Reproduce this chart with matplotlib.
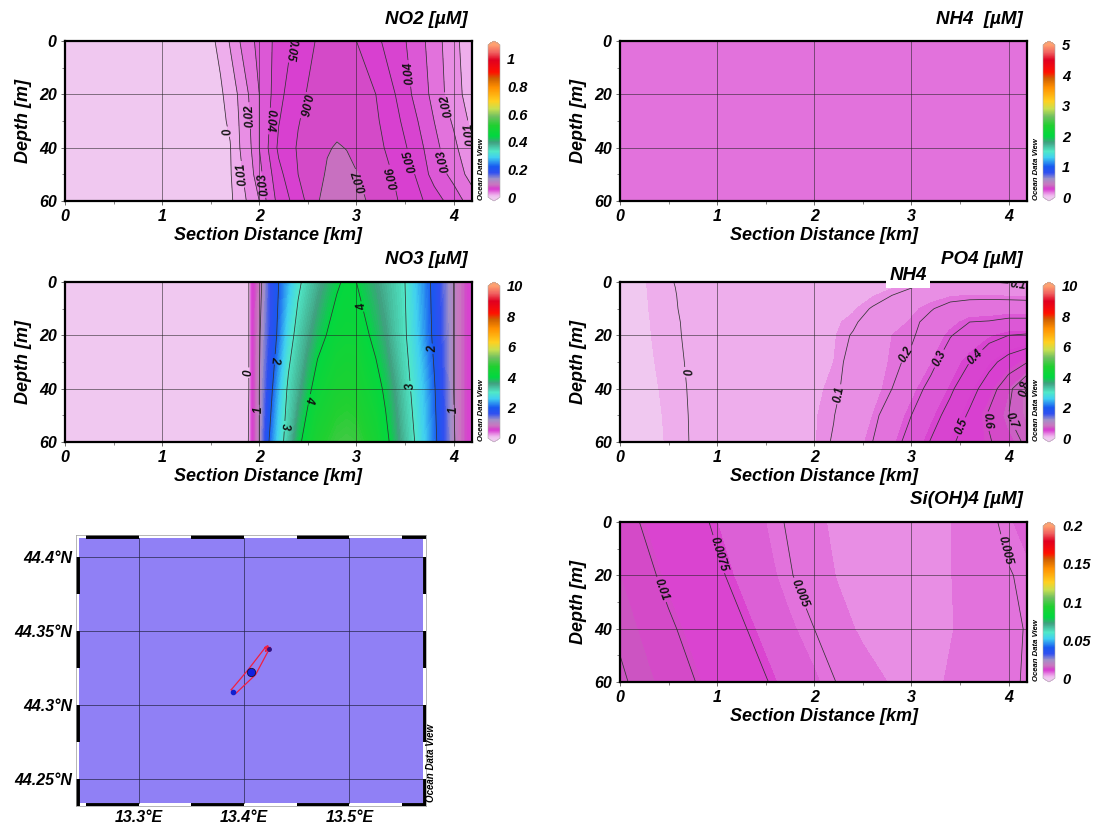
import numpy as np
import matplotlib
matplotlib.use("Agg")
import matplotlib.pyplot as plt
from matplotlib.cm import ScalarMappable
from matplotlib.colors import LinearSegmentedColormap, Normalize

plt.rcParams['font.family'] = ['Liberation Sans', 'DejaVu Sans']
plt.rcParams['font.weight'] = 'bold'
plt.rcParams['font.style'] = 'italic'
plt.rcParams['axes.labelweight'] = 'bold'

W, H = 1093, 827

# ---- data ----
no2_x = [0, 1.5, 1.6, 1.7, 1.8, 1.9, 2.0, 2.1, 2.2, 2.4, 2.6, 2.7, 2.8, 2.9, 3.0, 3.2, 3.4, 3.6, 3.8, 4.0, 4.2]
no2_depth = [0, 20, 30, 40, 50, 60]
no2_values = [
    [-.005, -.002, .0025, .011, .02, .027, .033, .038, .044, .053, .061, .0615, .0615, .061, .06, .052, .045, .036, .025, .013, .003],
    [-.005, -.004, -.0015, .004, .012, .021, .03, .038, .047, .058, .063, .065, .066, .0658, .065, .06, .05, .038, .027, .014, .005],
    [-.005, -.0045, -.0022, .0015, .011, .0195, .03, .0395, .0495, .0595, .065, .067, .0682, .0678, .066, .0615, .053, .042, .03, .0185, .007],
    [-.005, -.005, -.003, -.0005, .01, .018, .03, .041, .052, .061, .067, .0695, .0705, .0698, .067, .063, .056, .046, .033, .023, .009],
    [-.005, -.005, -.0035, -.001, .008, .015, .027, .037, .047, .06, .068, .0708, .0725, .0718, .0705, .065, .059, .05, .036, .027, .015],
    [-.005, -.005, -.004, -.0015, .004, .013, .02, .034, .043, .055, .0695, .0725, .074, .0735, .072, .068, .061, .054, .045, .035, .025],
]
no2_levels = [0, .01, .02, .03, .04, .05, .06, .07]
no2_labels = [(1.68, 34), (1.85, 28), (2.1, 30), (2.3, 3), (2.45, 24), (1.82, 50), (2.02, 54), (3.1, 52),
              (3.4, 51), (3.57, 45), (3.58, 12), (3.88, 45), (3.95, 24), (4.12, 35)]

nh4_x = [0, 4.2]
nh4_depth = [0, 60]
nh4_values = [[.17, .17], [.17, .17]]

no3_x = [0, 1.8, 1.88, 1.92, 2.0, 2.05, 2.1, 2.2, 2.3, 2.4, 2.5, 2.6, 2.8, 2.9, 3.0, 3.2, 3.3, 3.4, 3.5, 3.6, 3.7, 3.8, 3.9, 4.0, 4.1, 4.2]
no3_depth = [0, 20, 40, 60]
no3_values = [
    [-.5, -.5, -.2, .45, .85, 1.15, 1.5, 2.0, 2.45, 2.9, 3.2, 3.45, 3.93, 4.1, 4.0, 3.6, 3.4, 3.2, 3.0, 2.6, 2.25, 1.85, 1.4, 1.0, .7, .4],
    [-.5, -.5, -.2, .45, .95, 1.25, 1.55, 2.12, 2.75, 3.2, 3.5, 3.8, 4.25, 4.3, 4.3, 3.85, 3.6, 3.3, 3.05, 2.7, 2.3, 1.9, 1.45, 1.0, .7, .4],
    [-.5, -.5, -.2, .45, 1.0, 1.35, 1.75, 2.45, 3.1, 3.45, 3.85, 4.25, 4.55, 4.6, 4.55, 4.2, 3.9, 3.55, 3.2, 2.85, 2.5, 2.05, 1.55, 1.0, .7, .4],
    [-.5, -.5, -.1, .45, 1.0, 1.5, 2.0, 2.7, 3.3, 3.85, 4.3, 4.6, 4.9, 4.95, 4.9, 4.5, 4.15, 3.75, 3.35, 3.0, 2.6, 2.15, 1.6, 1.05, .7, .4],
]
no3_levels = [0, 1, 2, 3, 4]
no3_labels = [(1.9, 34), (2.0, 48), (2.15, 29), (2.24, 54), (2.52, 44), (3.08, 9), (3.57, 39), (3.8, 25), (4.01, 48)]

po4_x = [0, .5, 1, 2, 2.2, 2.4, 2.6, 2.8, 3, 3.2, 3.4, 3.6, 3.8, 4, 4.2]
po4_depth = [0, 2, 5, 10, 15, 20, 30, 40, 50, 60]
po4_values = [
    [-.04, -.003, .025, .06, .065, .07, .075, .077, .08, .103, .11, .107, .101, .095, .085],
    [-.04, -.004, .025, .062, .067, .07, .072, .076, .097, .125, .13, .13, .125, .115, .105],
    [-.04, -.005, .025, .064, .068, .072, .076, .1, .13, .16, .175, .18, .18, .175, .17],
    [-.04, -.006, .025, .066, .07, .075, .105, .14, .17, .195, .225, .24, .245, .25, .25],
    [-.04, -.008, .025, .068, .073, .09, .13, .16, .185, .22, .26, .3, .305, .32, .32],
    [-.04, -.009, .025, .07, .076, .105, .15, .18, .19, .24, .295, .34, .37, .4, .41],
    [-.04, -.012, .025, .073, .08, .12, .16, .185, .215, .275, .35, .4, .47, .54, .6],
    [-.04, -.015, .025, .075, .085, .13, .16, .2, .26, .325, .385, .46, .55, .67, .82],
    [-.04, -.017, .025, .076, .098, .14, .18, .24, .3, .365, .43, .515, .615, .7, .8],
    [-.04, -.018, .025, .077, .105, .15, .2, .265, .335, .405, .485, .54, .59, .66, .72],
]
po4_levels = [0, .1, .2, .3, .4, .5, .6, .7, .8]
po4_labels = [(.62, 34), (2.24, 42), (2.95, 27), (3.3, 29), (3.63, 27), (3.5, 54), (3.8, 52), (4.03, 52), (4.14, 40), (4.1, 1.5)]

si_x = [0, .25, .5, .75, 1, 1.25, 1.5, 1.75, 2, 2.25, 2.5, 2.75, 3, 3.25, 3.5, 3.75, 4, 4.2]
si_depth = [0, 20, 40, 60]
si_values = [
    [.0108, .0098, .0090, .0081, .0072, .0063, .0056, .0048, .0040, .0034, .0030, .0029, .0030, .0033, .0039, .0045, .0054, .0062],
    [.0115, .0105, .0095, .0087, .0078, .0069, .0060, .0051, .0043, .0036, .0031, .0029, .0030, .0033, .0039, .0043, .0049, .0053],
    [.0122, .0112, .0103, .0094, .0086, .0077, .0068, .0058, .0050, .0041, .0035, .0030, .0030, .0034, .0038, .0042, .0047, .0051],
    [.0128, .0119, .0109, .0101, .0092, .0083, .0076, .0067, .0058, .0049, .0042, .0037, .0036, .0036, .0039, .0042, .0047, .0052],
]
si_levels = [.005, .0075, .01, .0125]
si_labels = [(.45, 25), (1.02, 12), (1.9, 26), (4.03, 10)]

station_lon = [13.390, 13.4067, 13.4235]
station_lat = [44.309, 44.3223, 44.3378]
section_lon = [13.388, 13.404, 13.421, 13.424, 13.411, 13.392, 13.388]
section_lat = [44.3104, 44.3239, 44.3396, 44.3378, 44.3205, 44.3077, 44.3104]
map_lon_ticks = [13.3, 13.4, 13.5]
map_lat_ticks = [44.25, 44.3, 44.35, 44.4]
map_lon_bars = [13.25, 13.35, 13.45, 13.55]
map_lat_bars = [44.225, 44.275, 44.325, 44.375]

# ---- colours ----
odv_nodes = [0, .015, .025, .035, .05, .06, .07, .085, .12, .16, .2, .26, .3, .36, .4, .47, .53, .58, .63, .72, .78, .82, .9, .95, 1]
odv_colors = ['#f0c8f0', '#eeaeec', '#e88ee4', '#e272dc', '#d842d2', '#d644cc', '#cc60c4', '#c878c0', '#a090c8',
              '#3050f0', '#1858f0', '#40d0f0', '#50e8c8', '#40a080', '#00d840', '#20d030', '#70c060', '#c8e050',
              '#ffd020', '#ff9000', '#d06000', '#ff1000', '#e00020', '#f06060', '#ffa070']
odv = LinearSegmentedColormap.from_list('odv', list(zip(odv_nodes, odv_colors)), N=512)
band_colors = ['#f0c8f0', '#eeaeec', '#e88ee4', '#e272dc', '#dc58d6', '#d844d0', '#d840d0', '#d44ac8', '#cc60c4', '#c870c0']


def place(l, t, r, b):
    return fig.add_axes([l / W, 1 - b / H, (r - l) / W, (b - t) / H])


def colorbar(left, top, vmax, ticks, labels):
    cax = place(left, top, left + 12, top + 160)
    sm = ScalarMappable(norm=Normalize(0, vmax), cmap=odv)
    cb = fig.colorbar(sm, cax=cax, extend='both', extendfrac=.025)
    cb.set_ticks(ticks, labels=labels)
    cb.ax.tick_params(length=0, pad=5, labelsize=10.5)
    cb.ax.minorticks_off()
    cb.outline.set_linewidth(.4)
    cb.outline.set_edgecolor('#aaaaaa')


def section(left, top, title, title_right, title_y, xs, depths, values, fill_levels, fill_colors,
            levels, labels, fmt, vmax, ticks, ticklabels, flip=False):
    ax = place(left, top, left + 407, top + 160)
    ax.set_xlim(0, 4.19)
    ax.set_ylim(60, 0)
    z = np.array(values)
    if fill_colors is None:
        ax.contourf(xs, depths, z, levels=fill_levels, cmap=odv, norm=Normalize(0, vmax), extend='both')
    else:
        ax.contourf(xs, depths, z, levels=fill_levels, colors=fill_colors)
    if levels:
        cs = ax.contour(xs, depths, z, levels=levels, colors='#333333', linewidths=.55)
        texts = cs.clabel(levels, manual=labels, fmt=fmt, fontsize=8.5, inline=True, inline_spacing=2)
        for t in texts:
            t.set_fontstyle('italic')
            t.set_color('#111111')
            # labels that climb steeply read downwards in the original
            if flip and t.get_rotation() > 30:
                t.set_rotation(t.get_rotation() - 180)
    ax.set_xticks([0, 1, 2, 3, 4])
    ax.set_xticks([.5, 1.5, 2.5, 3.5], minor=True)
    ax.set_yticks([0, 20, 40, 60])
    ax.set_yticks([10, 30, 50], minor=True)
    ax.grid(True, color='#222222', alpha=.55, lw=.7)
    ax.tick_params(labelsize=11.5, length=3, width=.6, color='#555555', pad=3)
    ax.tick_params(which='minor', length=2, width=.5, color='#555555')
    for s in ax.spines.values():
        s.set_linewidth(1.6)
    ax.set_xlabel('Section Distance [km]', fontsize=13, labelpad=2)
    ax.set_ylabel('Depth [m]', fontsize=13, labelpad=5)
    fig.text(title_right / W, 1 - title_y / H, title, fontsize=13.5, ha='right', va='center')
    fig.text((left + 416) / W, 1 - (top + 159) / H, 'Ocean Data View', fontsize=5.6, rotation=90, ha='center', va='bottom')
    colorbar(left + 423, top, vmax, ticks, ticklabels)
    return ax


fig = plt.figure(figsize=(W / 100, H / 100), dpi=100)

section(65, 41, 'NO2 [µM]', 468, 19, no2_x, no2_depth, no2_values,
        [-.01, 0, .01, .02, .03, .04, .05, .06, .07, .2],
        [band_colors[i] for i in (0, 1, 2, 3, 4, 5, 6, 7, 9)],
        no2_levels, no2_labels,
        {0: '0', .01: '0.01', .02: '0.02', .03: '0.03', .04: '0.04', .05: '0.05', .06: '0.06', .07: '0.07'},
        1.1, [0, .2, .4, .6, .8, 1], ['0', '0.2', '0.4', '0.6', '0.8', '1'], flip=True)

section(620, 41, 'NH4  [µM]', 1023, 19, nh4_x, nh4_depth, nh4_values,
        [0, 1], ['#e272dc'], [], [], {},
        5, [0, 1, 2, 3, 4, 5], ['0', '1', '2', '3', '4', '5'])

section(65, 282, 'NO3 [µM]', 468, 259, no3_x, no3_depth, no3_values,
        [-1] + [i * .05 for i in range(0, 105)], None,
        no3_levels, no3_labels, {0: '0', 1: '1', 2: '2', 3: '3', 4: '4'},
        10, [0, 2, 4, 6, 8, 10], ['0', '2', '4', '6', '8', '10'], flip=True)

section(620, 282, 'PO4 [µM]', 1023, 259, po4_x, po4_depth, po4_values,
        [-.1, -.02, .08, .18, .28, .38, .48, .58, .68, .78, 1], band_colors,
        po4_levels, po4_labels,
        {0: '0', .1: '0.1', .2: '0.2', .3: '0.3', .4: '0.4', .5: '0.5', .6: '0.6', .7: '0.7', .8: '0.8'},
        10, [0, 2, 4, 6, 8, 10], ['0', '2', '4', '6', '8', '10'])
fig.text(908 / W, 1 - 276 / H, 'NH4', fontsize=13.5, ha='center', va='center', zorder=20,
         bbox=dict(facecolor='white', edgecolor='none', pad=2.5))

section(620, 522, 'Si(OH)4 [µM]', 1023, 500, si_x, si_depth, si_values,
        [0, .0037, .0056, .0072, .0098, .0115, .02],
        ['#e88ee4', '#e272dc', '#dc60d6', '#da44d0', '#d44ac8', '#cc54c2'],
        si_levels, si_labels,
        {.005: '0.005', .0075: '0.0075', .01: '0.01', .0125: '0.0125'},
        .2, [0, .05, .1, .15, .2], ['0', '0.05', '0.1', '0.15', '0.2'])

# ---- map panel ----
ax = place(76, 535, 426, 806)
px_per_lon = 1053
px_per_lat = 1480
ax.set_xlim(13.3 + (76 - 138.7) / px_per_lon, 13.3 + (426 - 138.7) / px_per_lon)
ax.set_ylim(44.25 - (806 - 779) / px_per_lat, 44.25 + (779 - 535) / px_per_lat)
x0, x1 = ax.get_xlim()
y0, y1 = ax.get_ylim()
inset_x = 3 / px_per_lon
inset_y = 3 / px_per_lat
ax.fill_between([x0 + inset_x, x1 - inset_x], y0 + inset_y, y1 - inset_y, color='#9080f5', lw=0)
for lon in map_lon_ticks:
    ax.plot([lon, lon], [y0 + inset_y, y1 - inset_y], color='#222244', lw=.6, alpha=.8)
for lat in map_lat_ticks:
    ax.plot([x0 + inset_x, x1 - inset_x], [lat, lat], color='#222244', lw=.6, alpha=.8)
# frame of black and white bars
bar_y = [y0 + inset_y / 2, y1 - inset_y / 2]
bar_x = [x0 + inset_x / 2, x1 - inset_x / 2]
for lon in map_lon_bars:
    for yb in bar_y:
        ax.plot([lon, min(lon + .05, x1)], [yb, yb], color='k', lw=2.8, solid_capstyle='butt')
for lat in map_lat_bars:
    for xb in bar_x:
        ax.plot([xb, xb], [max(lat, y0), lat + .025], color='k', lw=2.8, solid_capstyle='butt')
ax.plot(section_lon, section_lat, color='#f02040', lw=.9)
ax.plot(station_lon[0], station_lat[0], 'o', color='#1020d0', ms=3)
ax.plot(station_lon[1], station_lat[1], 'o', color='#1020e0', mec='#101040', ms=6, mew=.6)
ax.plot(station_lon[2] - .0015, station_lat[2] + .0007, '*', color='#f02040', ms=5)
ax.plot(station_lon[2], station_lat[2], 'o', color='#301080', ms=2.5)
ax.set_xlim(x0, x1)
ax.set_ylim(y0, y1)
ax.set_xticks(map_lon_ticks, labels=['13.3°E', '13.4°E', '13.5°E'])
ax.set_yticks(map_lat_ticks, labels=['44.25°N', '44.3°N', '44.35°N', '44.4°N'])
ax.tick_params(length=0, labelsize=11.5, pad=3)
for s in ax.spines.values():
    s.set_linewidth(.5)
    s.set_color('#999999')
fig.text(431 / W, 1 - 802 / H, 'Ocean Data View', fontsize=7, rotation=90, ha='center', va='bottom')

fig.savefig('out.png', dpi=100)
